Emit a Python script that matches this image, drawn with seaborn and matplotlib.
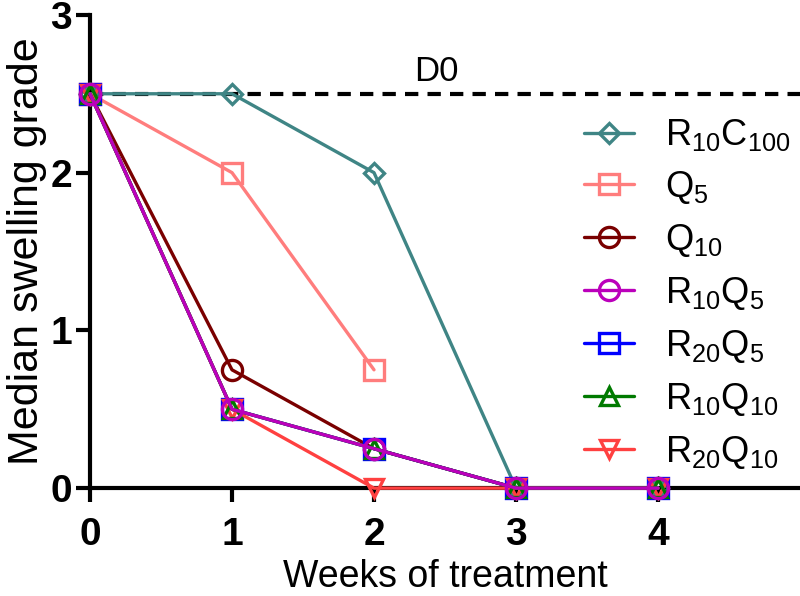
import pandas as pd
import matplotlib
matplotlib.use("Agg")
import matplotlib.pyplot as plt
import seaborn as sns

weeks = [0, 1, 2, 3, 4]
labels = [r"R$_\mathregular{10}$C$_\mathregular{100}$", r"Q$_\mathregular{5}$", r"Q$_\mathregular{10}$",
          r"R$_\mathregular{10}$Q$_\mathregular{5}$", r"R$_\mathregular{20}$Q$_\mathregular{5}$",
          r"R$_\mathregular{10}$Q$_\mathregular{10}$", r"R$_\mathregular{20}$Q$_\mathregular{10}$"]
r10c100 = [2.5, 2.5, 2.0, 0, 0]
q5 = [2.5, 2.0, 0.75]
q10 = [2.5, 0.75, 0.25, 0, 0]
r10q5 = [2.5, 0.5, 0.25, 0, 0]
r20q5 = [2.5, 0.5, 0.25, 0, 0]
r10q10 = [2.5, 0.5, 0.25, 0, 0]
r20q10 = [2.5, 0.5, 0, 0, 0]
d0_level = 2.5

series = [r10c100, q5, q10, r10q5, r20q5, r10q10, r20q10]
colors = ["#3f8585", "#ff7d7d", "#7a0000", "#bb00bb", "#0000ff", "#007a00", "#ff4040"]
markers = ["D", "s", "o", "o", "s", "^", "v"]
msizes = [10.5, 14, 14.5, 14.5, 14, 13, 13]
zorders = [3, 3, 3, 7, 4, 5, 4]

sns.set_style("ticks")
plt.rcParams["font.family"] = ["Liberation Sans", "DejaVu Sans"]
plt.rcParams["mathtext.fontset"] = "custom"
plt.rcParams["mathtext.rm"] = "Liberation Sans"
for k in ["axes.edgecolor", "axes.labelcolor", "text.color", "xtick.color", "ytick.color"]:
    plt.rcParams[k] = "black"

fig = plt.figure(figsize=(8, 5.96), dpi=100)
ax = fig.add_axes([0.1125, 0.181, 0.8875, 0.794])

ax.plot([0, 5], [d0_level, d0_level], color="black", lw=3, ls=(0, (3.2, 2.2)), zorder=1)
ax.text(2.44, 2.58, "D0", fontsize=25, ha="center", va="baseline")

for vals, lab, c, m, ms, z in zip(series, labels, colors, markers, msizes, zorders):
    df = pd.DataFrame({"week": weeks[:len(vals)], "grade": vals})
    sns.lineplot(data=df, x="week", y="grade", ax=ax, color=c, lw=2.4, marker=m,
                 markersize=ms, markerfacecolor="none", markeredgecolor=c,
                 markeredgewidth=2.4, label=lab, clip_on=False, zorder=z)

ax.set_xlim(0, 5)
ax.set_ylim(0, 3)
ax.set_xticks([0, 1, 2, 3, 4])
ax.set_yticks([0, 1, 2, 3])
ax.set_xlabel("Weeks of treatment", fontsize=27, labelpad=4)
ax.set_ylabel("Median swelling grade", fontsize=31, labelpad=2)
ax.tick_params(width=3, length=10, labelsize=28)
ax.tick_params(axis="x", pad=11)
ax.tick_params(axis="y", pad=3)
for t in ax.get_xticklabels() + ax.get_yticklabels():
    t.set_fontweight("bold")
sns.despine(ax=ax)
for s in ["left", "bottom"]:
    ax.spines[s].set_linewidth(3)

ax.legend(loc="upper left", bbox_to_anchor=(0.67, 0.822), frameon=False, fontsize=26,
          handlelength=1.4, labelspacing=0.44, handletextpad=0.85, borderpad=0)

fig.savefig("out.png", dpi=100)
